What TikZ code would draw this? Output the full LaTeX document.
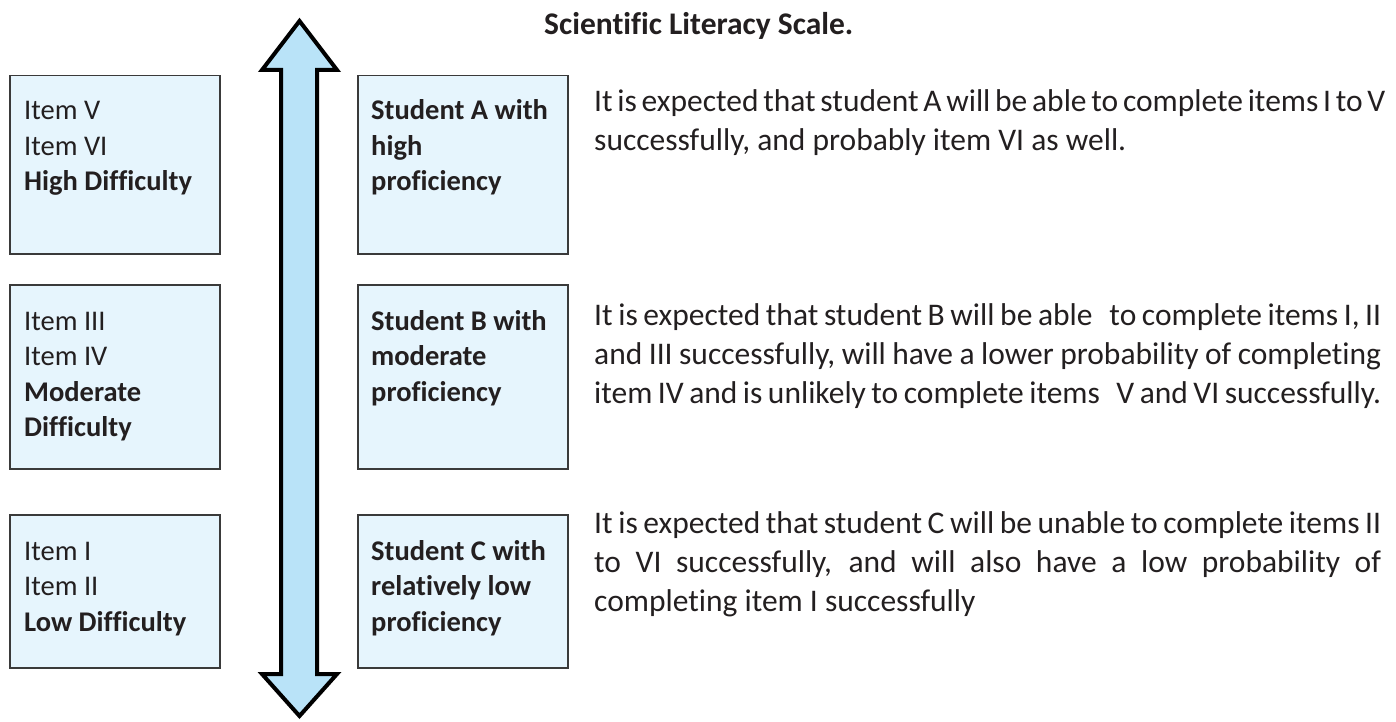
\documentclass[tikz,border=0pt]{standalone}
\usepackage{fontspec}
\setmainfont{Carlito}[Ligatures={NoCommon}]
\definecolor{boxfill}{HTML}{E6F5FD}
\definecolor{arrowfill}{HTML}{B9E3F8}
\definecolor{txt}{HTML}{231F20}
\definecolor{boxline}{HTML}{3A3A3A}
\newcommand{\boxfont}{\fontsize{28.5pt}{35.5pt}\selectfont}
\newcommand{\parafont}{\fontsize{31.5pt}{39pt}\selectfont}
\newcommand{\jline}[1]{\makebox[787pt][s]{#1}}
\tikzset{
  levelbox/.style={draw=boxline, line width=1.5pt, fill=boxfill, anchor=north west,
    inner sep=0pt, minimum width=210pt},
  boxtext/.style={anchor=base west, inner sep=0pt, text=txt, font=\boxfont},
  paratext/.style={anchor=base west, inner sep=0pt, text=txt, font=\parafont},
  scalearrow/.style={draw=black, line width=4pt, fill=arrowfill, line join=miter}
}
\begin{document}
\begin{tikzpicture}[x=1pt,y=-1pt]
\useasboundingbox (0,0) rectangle (1396,722);

% title
\node[paratext, font=\parafont\bfseries] (title) at (544,35) {Scientific Literacy Scale.};

% arrow
\draw[scalearrow] (299.5,21) -- (337,70) -- (317,70) -- (317,674) -- (337,674)
  -- (299.5,716) -- (262,674) -- (281,674) -- (281,70) -- (262,70) -- cycle;

% difficulty boxes
\node[levelbox, minimum height=178pt] (d1) at (9,75) {};
\node[levelbox, minimum height=184pt] (d2) at (9,284) {};
\node[levelbox, minimum height=153pt] (d3) at (9,514) {};
% student boxes
\node[levelbox, minimum height=178pt] (s1) at (357,75) {};
\node[levelbox, minimum height=184pt] (s2) at (357,284) {};
\node[levelbox, minimum height=153pt] (s3) at (357,514) {};

% box texts
\node[boxtext] (d1t) at (24,120) {\parbox[t]{190pt}{Item V\\Item VI\\\textbf{High Difficulty}}};
\node[boxtext] (d2t) at (24,330) {\parbox[t]{190pt}{Item III\\Item IV\\\textbf{Moderate}\\\textbf{Difficulty}}};
\node[boxtext] (d3t) at (24,560) {\parbox[t]{190pt}{Item I\\Item II\\\textbf{Low Difficulty}}};
\node[boxtext, font=\boxfont\bfseries] (s1t) at (371,120) {\parbox[t]{195pt}{Student A with\\high\\proficiency}};
\node[boxtext, font=\boxfont\bfseries] (s2t) at (371,330) {\parbox[t]{195pt}{Student B with\\moderate\\proficiency}};
\node[boxtext, font=\boxfont\bfseries] (s3t) at (371,560) {\parbox[t]{195pt}{Student C with\\relatively low\\proficiency}};

% descriptions
\node[paratext] (pa) at (594,112) {\parbox[t]{787pt}{%
  \jline{It is expected that student A will be able to complete items I to V}\\
  successfully, and probably item VI as well.}};
\node[paratext] (pb) at (594,325) {\parbox[t]{787pt}{%
  \jline{It is expected that student B will be able \ \ to complete items I, II}\\
  \jline{and III successfully, will have a lower probability of completing}\\
  \jline{item IV and is unlikely to complete items \ \ V and VI successfully.}}};
\node[paratext] (pc) at (594,533) {\parbox[t]{787pt}{%
  \jline{It is expected that student C will be unable to complete items II}\\
  \jline{to VI successfully, and will also have a low probability of}\\
  completing item I successfully}};
\end{tikzpicture}
\end{document}
